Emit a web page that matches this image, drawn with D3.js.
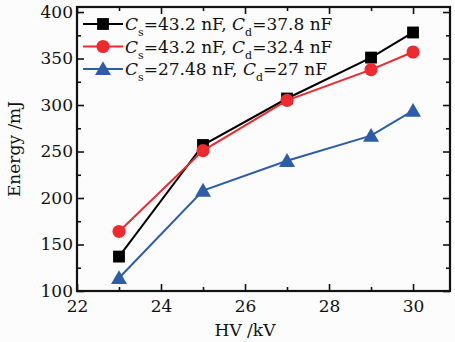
<!DOCTYPE html>
<html>
<head>
<meta charset="utf-8">
<script src="https://cdn.jsdelivr.net/npm/d3@7"></script>
<style>
  body { margin: 0; background: #fcfcfc; }
  svg { display: block; }
</style>
</head>
<body>
<div id="chart"></div>
<script>
// data
const hv = [23, 25, 27, 29, 30];
const energyA = [137, 257, 307, 351, 378];   // Cs=43.2, Cd=37.8
const energyB = [164, 251, 305, 338, 357];   // Cs=43.2, Cd=32.4
const energyC = [114, 208, 240, 267, 294];   // Cs=27.48, Cd=27
const xTicks = [22, 24, 26, 28, 30];
const yTicks = [100, 150, 200, 250, 300, 350, 400];
const seriesNames = [
  { cs: "43.2", cd: "37.8" },
  { cs: "43.2", cd: "32.4" },
  { cs: "27.48", cd: "27" }
];

const FONT = "'DejaVu Serif', 'Liberation Serif', serif";
const width = 455, height = 342;
const margin = { top: 7, right: 5, bottom: 51, left: 77 };
const innerWidth = width - margin.left - margin.right;
const innerHeight = height - margin.top - margin.bottom;

const svg = d3.select("#chart").append("svg")
  .attr("width", width)
  .attr("height", height)
  .attr("font-family", FONT);

const g = svg.append("g").attr("transform", `translate(${margin.left},${margin.top})`);

const x = d3.scaleLinear().domain([22, 30.88]).range([0, innerWidth]);
const y = d3.scaleLinear().domain([100, 405.4]).range([innerHeight, 0]);

const series = [
  { values: energyA, color: "#000000", shape: "square" },
  { values: energyB, color: "#ee2a2e", shape: "circle" },
  { values: energyC, color: "#2d5ca8", shape: "triangle" }
];

// axes with inward ticks (major + minor)
const xMinor = d3.range(23, 31, 2);
const yMinor = d3.range(125, 401, 50);

function tickAxis(axis, scale, ticks, size) {
  return axis(scale).tickValues(ticks).tickSizeInner(-size).tickSizeOuter(0).tickFormat("");
}

const axBottom = g.append("g").attr("transform", `translate(0,${innerHeight})`);
axBottom.call(d3.axisBottom(x).tickValues(xTicks).tickSizeInner(-7).tickSizeOuter(0).tickPadding(9).tickFormat(d3.format("d")));
axBottom.append("g").call(tickAxis(d3.axisBottom, x, xMinor, 4));

const axTop = g.append("g");
axTop.call(tickAxis(d3.axisTop, x, xTicks, 7));
axTop.append("g").call(tickAxis(d3.axisTop, x, xMinor, 4));

const axLeft = g.append("g");
axLeft.call(d3.axisLeft(y).tickValues(yTicks).tickSizeInner(-7).tickSizeOuter(0).tickPadding(4).tickFormat(d3.format("d")));
axLeft.append("g").call(tickAxis(d3.axisLeft, y, yMinor, 4));

const axRight = g.append("g").attr("transform", `translate(${innerWidth},0)`);
axRight.call(tickAxis(d3.axisRight, y, yTicks, 7));
axRight.append("g").call(tickAxis(d3.axisRight, y, yMinor, 4));

g.selectAll(".domain").remove();
g.selectAll(".tick text").filter(function() { return this.textContent === ""; }).remove();
g.selectAll("g").attr("font-family", FONT);
g.selectAll(".tick line").attr("stroke", "#111").attr("stroke-width", 1.6);
g.selectAll(".tick text").attr("font-size", 17).attr("fill", "#111");

g.append("rect")
  .attr("width", innerWidth)
  .attr("height", innerHeight)
  .attr("fill", "none")
  .attr("stroke", "#111")
  .attr("stroke-width", 2.2);

// markers
const symbolType = { square: d3.symbolSquare, circle: d3.symbolCircle, triangle: d3.symbolTriangle };
const symbolSize = { square: 140, circle: 135, triangle: 110 };

function drawMarker(sel, s, cx, cy) {
  sel.append("path")
    .attr("d", d3.symbol().type(symbolType[s.shape]).size(symbolSize[s.shape])())
    .attr("transform", `translate(${cx},${cy + (s.shape === "triangle" ? 1.5 : 0)})`)
    .attr("fill", s.color);
}

const line = d3.line().x((d, i) => x(hv[i])).y(d => y(d));

series.forEach(s => {
  g.append("path")
    .datum(s.values)
    .attr("d", line)
    .attr("fill", "none")
    .attr("stroke", s.color)
    .attr("stroke-width", 2);
  s.values.forEach((v, i) => drawMarker(g, s, x(hv[i]), y(v)));
});

// legend
const legend = g.append("g").attr("transform", "translate(6,17)");
series.forEach((s, i) => {
  const row = legend.append("g").attr("transform", `translate(0,${i * 22.5})`);
  row.append("line")
    .attr("x1", 0).attr("x2", 40)
    .attr("stroke", s.color).attr("stroke-width", 2);
  drawMarker(row, s, 20, 0);
  const t = row.append("text")
    .attr("x", 42)
    .attr("y", 6)
    .attr("font-size", 17)
    .attr("fill", "#111");
  const n = seriesNames[i];
  t.append("tspan").attr("font-style", "italic").text("C");
  t.append("tspan").attr("dy", 6).attr("font-size", 11).text("s");
  t.append("tspan").attr("dy", -6).text(`=${n.cs} nF, `);
  t.append("tspan").attr("font-style", "italic").text("C");
  t.append("tspan").attr("dy", 6).attr("font-size", 11).text("d");
  t.append("tspan").attr("dy", -6).text(`=${n.cd} nF`);
});

// axis titles
svg.append("text")
  .attr("x", margin.left + x(26))
  .attr("y", 336)
  .attr("text-anchor", "middle")
  .attr("font-size", 17)
  .attr("fill", "#111")
  .text("HV /kV");

svg.append("text")
  .attr("transform", `translate(20,${margin.top + innerHeight / 2}) rotate(-90)`)
  .attr("text-anchor", "middle")
  .attr("font-size", 17)
  .attr("fill", "#111")
  .text("Energy /mJ");
</script>
</body>
</html>
